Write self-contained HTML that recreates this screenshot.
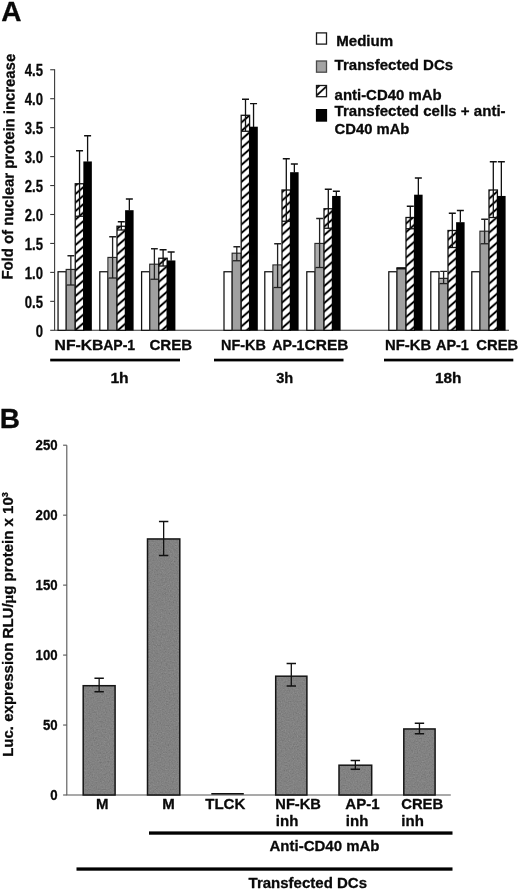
<!DOCTYPE html>
<html><head><meta charset="utf-8"><title>Figure</title><style>html,body{margin:0;padding:0;background:#fff;}svg{display:block;will-change:transform;opacity:0.999;}text{font-family:"Liberation Sans",sans-serif;font-weight:bold;fill:#0a0a0a;stroke:#0a0a0a;stroke-width:0.3px;stroke-linejoin:round;}</style>
</head><body>
<svg width="520" height="891" viewBox="0 0 520 891">
<defs>
<pattern id="hatch0" patternUnits="userSpaceOnUse" width="20" height="8.5" patternTransform="translate(75.25 330.2) skewY(-41)"><rect width="20" height="8.5" fill="#fff"/><rect width="20" height="1.3" fill="#000"/><rect y="7.2" width="20" height="1.3" fill="#000"/></pattern>
<pattern id="hatch1" patternUnits="userSpaceOnUse" width="20" height="8.5" patternTransform="translate(117.00 322.5) skewY(-41)"><rect width="20" height="8.5" fill="#fff"/><rect width="20" height="1.3" fill="#000"/><rect y="7.2" width="20" height="1.3" fill="#000"/></pattern>
<pattern id="hatch2" patternUnits="userSpaceOnUse" width="20" height="8.5" patternTransform="translate(158.80 324.4) skewY(-41)"><rect width="20" height="8.5" fill="#fff"/><rect width="20" height="1.3" fill="#000"/><rect y="7.2" width="20" height="1.3" fill="#000"/></pattern>
<pattern id="hatch3" patternUnits="userSpaceOnUse" width="20" height="8.5" patternTransform="translate(241.20 326.6) skewY(-41)"><rect width="20" height="8.5" fill="#fff"/><rect width="20" height="1.3" fill="#000"/><rect y="7.2" width="20" height="1.3" fill="#000"/></pattern>
<pattern id="hatch4" patternUnits="userSpaceOnUse" width="20" height="8.5" patternTransform="translate(282.00 328.1) skewY(-41)"><rect width="20" height="8.5" fill="#fff"/><rect width="20" height="1.3" fill="#000"/><rect y="7.2" width="20" height="1.3" fill="#000"/></pattern>
<pattern id="hatch5" patternUnits="userSpaceOnUse" width="20" height="8.5" patternTransform="translate(324.00 328.75) skewY(-41)"><rect width="20" height="8.5" fill="#fff"/><rect width="20" height="1.3" fill="#000"/><rect y="7.2" width="20" height="1.3" fill="#000"/></pattern>
<pattern id="hatch6" patternUnits="userSpaceOnUse" width="20" height="8.5" patternTransform="translate(406.00 325.6) skewY(-41)"><rect width="20" height="8.5" fill="#fff"/><rect width="20" height="1.3" fill="#000"/><rect y="7.2" width="20" height="1.3" fill="#000"/></pattern>
<pattern id="hatch7" patternUnits="userSpaceOnUse" width="20" height="8.5" patternTransform="translate(448.00 324.75) skewY(-41)"><rect width="20" height="8.5" fill="#fff"/><rect width="20" height="1.3" fill="#000"/><rect y="7.2" width="20" height="1.3" fill="#000"/></pattern>
<pattern id="hatch8" patternUnits="userSpaceOnUse" width="20" height="8.5" patternTransform="translate(489.00 326.25) skewY(-41)"><rect width="20" height="8.5" fill="#fff"/><rect width="20" height="1.3" fill="#000"/><rect y="7.2" width="20" height="1.3" fill="#000"/></pattern>
<filter id="nz" x="0" y="0" width="100%" height="100%"><feTurbulence type="fractalNoise" baseFrequency="0.75" numOctaves="2" seed="4" result="t"/><feColorMatrix in="t" type="matrix" values="0.33 0.33 0.33 0 0 0.33 0.33 0.33 0 0 0.33 0.33 0.33 0 0 0 0 0 0 1" result="g"/><feComposite in="SourceGraphic" in2="g" operator="arithmetic" k1="0" k2="1" k3="0.22" k4="-0.11" result="c"/><feComposite in="c" in2="SourceGraphic" operator="in"/></filter>
</defs>
<rect width="520" height="891" fill="#fff"/>
<path d="M54.6 69.3V330.3H509" stroke="#3a3a3a" stroke-width="1.1" fill="none"/>
<path d="M50.2 330.30H54.6" stroke="#3a3a3a" stroke-width="1.1"/>
<text transform="translate(43.0 336.60) scale(0.77 1)" font-size="17" text-anchor="end">0</text>
<path d="M50.2 301.35H54.6" stroke="#3a3a3a" stroke-width="1.1"/>
<text transform="translate(43.0 307.65) scale(0.77 1)" font-size="17" text-anchor="end">0.5</text>
<path d="M50.2 272.40H54.6" stroke="#3a3a3a" stroke-width="1.1"/>
<text transform="translate(43.0 278.70) scale(0.77 1)" font-size="17" text-anchor="end">1.0</text>
<path d="M50.2 243.45H54.6" stroke="#3a3a3a" stroke-width="1.1"/>
<text transform="translate(43.0 249.75) scale(0.77 1)" font-size="17" text-anchor="end">1.5</text>
<path d="M50.2 214.50H54.6" stroke="#3a3a3a" stroke-width="1.1"/>
<text transform="translate(43.0 220.80) scale(0.77 1)" font-size="17" text-anchor="end">2.0</text>
<path d="M50.2 185.55H54.6" stroke="#3a3a3a" stroke-width="1.1"/>
<text transform="translate(43.0 191.85) scale(0.77 1)" font-size="17" text-anchor="end">2.5</text>
<path d="M50.2 156.60H54.6" stroke="#3a3a3a" stroke-width="1.1"/>
<text transform="translate(43.0 162.90) scale(0.77 1)" font-size="17" text-anchor="end">3.0</text>
<path d="M50.2 127.65H54.6" stroke="#3a3a3a" stroke-width="1.1"/>
<text transform="translate(43.0 133.95) scale(0.77 1)" font-size="17" text-anchor="end">3.5</text>
<path d="M50.2 98.70H54.6" stroke="#3a3a3a" stroke-width="1.1"/>
<text transform="translate(43.0 105.00) scale(0.77 1)" font-size="17" text-anchor="end">4.0</text>
<path d="M50.2 69.75H54.6" stroke="#3a3a3a" stroke-width="1.1"/>
<text transform="translate(43.0 76.05) scale(0.77 1)" font-size="17" text-anchor="end">4.5</text>
<rect x="58.05" y="271.75" width="8.20" height="58.55" fill="#fff" stroke="#111" stroke-width="1.25"/>
<rect x="66.25" y="269.5" width="9.00" height="60.80" fill="#a0a0a0" stroke="#2a2a2a" stroke-width="1.3"/>
<rect x="66.85" y="270.1" width="7.80" height="14.90" fill="#adadad"/>
<path d="M70.85 255.75V285M67.44999999999999 255.75H74.25" stroke="#222" stroke-width="1.3" fill="none"/>
<path d="M66.85 285H74.65" stroke="#222" stroke-width="1.3" fill="none"/>
<rect x="75.25" y="183.75" width="8.40" height="146.55" fill="url(#hatch0)" stroke="#111" stroke-width="1.3"/>
<path d="M79.55 150.75V216.25M76.05 150.75H83.05" stroke="#111" stroke-width="1.3" fill="none"/>
<path d="M75.25 216.25H83.65" stroke="#111" stroke-width="1.3" fill="none"/>
<rect x="83.35" y="161.45" width="8.50" height="169.15" fill="#000"/>
<path d="M87.6 135.75V161.75M84.1 135.75H91.1" stroke="#111" stroke-width="1.3" fill="none"/>
<rect x="99.80" y="271.75" width="8.20" height="58.55" fill="#fff" stroke="#111" stroke-width="1.25"/>
<rect x="108.00" y="257.5" width="9.00" height="72.80" fill="#a0a0a0" stroke="#2a2a2a" stroke-width="1.3"/>
<rect x="108.60" y="258.1" width="7.80" height="19.90" fill="#adadad"/>
<path d="M112.6 236.75V278M109.19999999999999 236.75H116.0" stroke="#222" stroke-width="1.3" fill="none"/>
<path d="M108.6 278H116.4" stroke="#222" stroke-width="1.3" fill="none"/>
<rect x="117.00" y="226.25" width="8.40" height="104.05" fill="url(#hatch1)" stroke="#111" stroke-width="1.3"/>
<path d="M121.3 221.75V230M117.8 221.75H124.8" stroke="#111" stroke-width="1.3" fill="none"/>
<path d="M117.0 230H125.4" stroke="#111" stroke-width="1.3" fill="none"/>
<rect x="125.10" y="210.2" width="8.50" height="120.40" fill="#000"/>
<path d="M129.35000000000002 199V210.5M125.85000000000002 199H132.85000000000002" stroke="#111" stroke-width="1.3" fill="none"/>
<rect x="141.60" y="271.75" width="8.20" height="58.55" fill="#fff" stroke="#111" stroke-width="1.25"/>
<rect x="149.80" y="264.25" width="9.00" height="66.05" fill="#a0a0a0" stroke="#2a2a2a" stroke-width="1.3"/>
<rect x="150.40" y="264.85" width="7.80" height="14.40" fill="#adadad"/>
<path d="M154.4 248.75V279.25M151.0 248.75H157.8" stroke="#222" stroke-width="1.3" fill="none"/>
<path d="M150.4 279.25H158.20000000000002" stroke="#222" stroke-width="1.3" fill="none"/>
<rect x="158.80" y="258.25" width="8.40" height="72.05" fill="url(#hatch2)" stroke="#111" stroke-width="1.3"/>
<path d="M163.1 249.75V266M159.6 249.75H166.6" stroke="#111" stroke-width="1.3" fill="none"/>
<path d="M158.8 266H167.20000000000002" stroke="#111" stroke-width="1.3" fill="none"/>
<rect x="166.90" y="260.45" width="8.50" height="70.15" fill="#000"/>
<path d="M171.15000000000003 252V260.75M167.65000000000003 252H174.65000000000003" stroke="#111" stroke-width="1.3" fill="none"/>
<rect x="224.00" y="271.75" width="8.20" height="58.55" fill="#fff" stroke="#111" stroke-width="1.25"/>
<rect x="232.20" y="253.25" width="9.00" height="77.05" fill="#a0a0a0" stroke="#2a2a2a" stroke-width="1.3"/>
<rect x="232.80" y="253.85" width="7.80" height="6.90" fill="#adadad"/>
<path d="M236.79999999999998 246.75V260.75M233.39999999999998 246.75H240.2" stroke="#222" stroke-width="1.3" fill="none"/>
<path d="M232.79999999999998 260.75H240.6" stroke="#222" stroke-width="1.3" fill="none"/>
<rect x="241.20" y="115.3" width="8.40" height="215.00" fill="url(#hatch3)" stroke="#111" stroke-width="1.3"/>
<path d="M245.49999999999997 99.25V131.25M241.99999999999997 99.25H248.99999999999997" stroke="#111" stroke-width="1.3" fill="none"/>
<path d="M241.2 131.25H249.6" stroke="#111" stroke-width="1.3" fill="none"/>
<rect x="249.30" y="126.7" width="8.50" height="203.90" fill="#000"/>
<path d="M253.55 103.7V127M250.05 103.7H257.05" stroke="#111" stroke-width="1.3" fill="none"/>
<rect x="264.80" y="271.75" width="8.20" height="58.55" fill="#fff" stroke="#111" stroke-width="1.25"/>
<rect x="273.00" y="265" width="9.00" height="65.30" fill="#a0a0a0" stroke="#2a2a2a" stroke-width="1.3"/>
<rect x="273.60" y="265.6" width="7.80" height="21.90" fill="#adadad"/>
<path d="M277.6 243.75V287.5M274.20000000000005 243.75H281.0" stroke="#222" stroke-width="1.3" fill="none"/>
<path d="M273.6 287.5H281.4" stroke="#222" stroke-width="1.3" fill="none"/>
<rect x="282.00" y="190" width="8.40" height="140.30" fill="url(#hatch4)" stroke="#111" stroke-width="1.3"/>
<path d="M286.3 158.75V221.25M282.8 158.75H289.8" stroke="#111" stroke-width="1.3" fill="none"/>
<path d="M282.0 221.25H290.4" stroke="#111" stroke-width="1.3" fill="none"/>
<rect x="290.10" y="172.2" width="8.50" height="158.40" fill="#000"/>
<path d="M294.35 164V172.5M290.85 164H297.85" stroke="#111" stroke-width="1.3" fill="none"/>
<rect x="306.80" y="271.75" width="8.20" height="58.55" fill="#fff" stroke="#111" stroke-width="1.25"/>
<rect x="315.00" y="243.5" width="9.00" height="86.80" fill="#a0a0a0" stroke="#2a2a2a" stroke-width="1.3"/>
<rect x="315.60" y="244.1" width="7.80" height="23.40" fill="#adadad"/>
<path d="M319.6 218.5V267.5M316.20000000000005 218.5H323.0" stroke="#222" stroke-width="1.3" fill="none"/>
<path d="M315.6 267.5H323.4" stroke="#222" stroke-width="1.3" fill="none"/>
<rect x="324.00" y="208.75" width="8.40" height="121.55" fill="url(#hatch5)" stroke="#111" stroke-width="1.3"/>
<path d="M328.3 189.25V228.25M324.8 189.25H331.8" stroke="#111" stroke-width="1.3" fill="none"/>
<path d="M324.0 228.25H332.4" stroke="#111" stroke-width="1.3" fill="none"/>
<rect x="332.10" y="195.95" width="8.50" height="134.65" fill="#000"/>
<path d="M336.35 191.25V196.25M332.85 191.25H339.85" stroke="#111" stroke-width="1.3" fill="none"/>
<rect x="388.80" y="271.75" width="8.20" height="58.55" fill="#fff" stroke="#111" stroke-width="1.25"/>
<rect x="397.00" y="268.25" width="9.00" height="62.05" fill="#a0a0a0" stroke="#2a2a2a" stroke-width="1.3"/>
<rect x="396.50" y="267.25" width="10.00" height="2.2" fill="#111"/>
<rect x="406.00" y="217.5" width="8.40" height="112.80" fill="url(#hatch6)" stroke="#111" stroke-width="1.3"/>
<path d="M410.3 206.25V228.75M406.8 206.25H413.8" stroke="#111" stroke-width="1.3" fill="none"/>
<path d="M406.0 228.75H414.4" stroke="#111" stroke-width="1.3" fill="none"/>
<rect x="414.10" y="194.7" width="8.50" height="135.90" fill="#000"/>
<path d="M418.35 178V195M414.85 178H421.85" stroke="#111" stroke-width="1.3" fill="none"/>
<rect x="430.80" y="271.75" width="8.20" height="58.55" fill="#fff" stroke="#111" stroke-width="1.25"/>
<rect x="439.00" y="278.4" width="9.00" height="51.90" fill="#a0a0a0" stroke="#2a2a2a" stroke-width="1.3"/>
<rect x="439.60" y="279.0" width="7.80" height="4.60" fill="#adadad"/>
<path d="M443.6 271.4V283.6M440.20000000000005 271.4H447.0" stroke="#222" stroke-width="1.3" fill="none"/>
<path d="M439.6 283.6H447.4" stroke="#222" stroke-width="1.3" fill="none"/>
<rect x="448.00" y="230.5" width="8.40" height="99.80" fill="url(#hatch7)" stroke="#111" stroke-width="1.3"/>
<path d="M452.3 213.25V247.5M448.8 213.25H455.8" stroke="#111" stroke-width="1.3" fill="none"/>
<path d="M448.0 247.5H456.4" stroke="#111" stroke-width="1.3" fill="none"/>
<rect x="456.10" y="222.2" width="8.50" height="108.40" fill="#000"/>
<path d="M460.35 210.5V222.5M456.85 210.5H463.85" stroke="#111" stroke-width="1.3" fill="none"/>
<rect x="471.80" y="271.75" width="8.20" height="58.55" fill="#fff" stroke="#111" stroke-width="1.25"/>
<rect x="480.00" y="231.25" width="9.00" height="99.05" fill="#a0a0a0" stroke="#2a2a2a" stroke-width="1.3"/>
<rect x="480.60" y="231.85" width="7.80" height="11.90" fill="#adadad"/>
<path d="M484.6 219.25V243.75M481.20000000000005 219.25H488.0" stroke="#222" stroke-width="1.3" fill="none"/>
<path d="M480.6 243.75H488.4" stroke="#222" stroke-width="1.3" fill="none"/>
<rect x="489.00" y="190" width="8.40" height="140.30" fill="url(#hatch8)" stroke="#111" stroke-width="1.3"/>
<path d="M493.3 161.75V217.5M489.8 161.75H496.8" stroke="#111" stroke-width="1.3" fill="none"/>
<path d="M489.0 217.5H497.4" stroke="#111" stroke-width="1.3" fill="none"/>
<rect x="497.10" y="195.95" width="8.50" height="134.65" fill="#000"/>
<path d="M501.35 161.75V196.25M497.85 161.75H504.85" stroke="#111" stroke-width="1.3" fill="none"/>
<text x="54.5" y="350.2" font-size="14" text-anchor="start" textLength="49" lengthAdjust="spacingAndGlyphs" >NF-KB</text>
<text x="103.2" y="350.2" font-size="14" text-anchor="start" textLength="32" lengthAdjust="spacingAndGlyphs" >AP-1</text>
<text x="149.4" y="350.2" font-size="14" text-anchor="start" textLength="42.8" lengthAdjust="spacingAndGlyphs" >CREB</text>
<text x="221" y="350.2" font-size="14" text-anchor="start" textLength="44.8" lengthAdjust="spacingAndGlyphs" >NF-KB</text>
<text x="272.2" y="350.2" font-size="14" text-anchor="start" textLength="32.3" lengthAdjust="spacingAndGlyphs" >AP-1</text>
<text x="304.6" y="350.2" font-size="14" text-anchor="start" textLength="43.8" lengthAdjust="spacingAndGlyphs" >CREB</text>
<text x="385" y="350.2" font-size="14" text-anchor="start" textLength="46.2" lengthAdjust="spacingAndGlyphs" >NF-KB</text>
<text x="436" y="350.2" font-size="14" text-anchor="start" textLength="32.9" lengthAdjust="spacingAndGlyphs" >AP-1</text>
<text x="476.3" y="350.2" font-size="14" text-anchor="start" textLength="42" lengthAdjust="spacingAndGlyphs" >CREB</text>
<rect x="50.2" y="358.7" width="129.8" height="2.7" fill="#000"/>
<rect x="214" y="358.7" width="129.5" height="2.7" fill="#000"/>
<rect x="384" y="358.7" width="129.29999999999995" height="2.7" fill="#000"/>
<text x="110.4" y="382.8" font-size="15" text-anchor="start" textLength="18.3" lengthAdjust="spacingAndGlyphs" >1h</text>
<text x="276.2" y="382.8" font-size="14.6" text-anchor="start" >3h</text>
<text x="435" y="382.8" font-size="15" text-anchor="start" textLength="26.5" lengthAdjust="spacingAndGlyphs" >18h</text>
<text transform="translate(12.5 279.6) rotate(-89.35)" font-size="15.3" textLength="225.8" lengthAdjust="spacingAndGlyphs">Fold of nuclear protein increase</text>
<text x="1.2" y="21.2" font-size="28" text-anchor="start" >A</text>
<rect x="316.5" y="32.9" width="10" height="11.2" fill="#fff" stroke="#1a1a1a" stroke-width="1.3"/>
<rect x="316.5" y="61" width="10" height="11.2" fill="#a4a4a4" stroke="#4a4a4a" stroke-width="1.3"/>
<rect x="316.5" y="85.5" width="10" height="11.2" fill="#fff" stroke="#1a1a1a" stroke-width="1.3"/>
<path d="M316.9 95.3L326.2 86.6M316.6 88.2L319.6 85.4" stroke="#111" stroke-width="1.9" fill="none"/>
<rect x="315.9" y="109" width="11.2" height="12.7" fill="#000"/>
<text x="336.2" y="45.7" font-size="14.8" text-anchor="start" textLength="57" lengthAdjust="spacingAndGlyphs" >Medium</text>
<text x="334.6" y="70.4" font-size="14.8" text-anchor="start" textLength="118.6" lengthAdjust="spacingAndGlyphs" >Transfected DCs</text>
<text x="334.6" y="99.5" font-size="14.8" text-anchor="start" textLength="107" lengthAdjust="spacingAndGlyphs" >anti-CD40 mAb</text>
<text x="334.6" y="116.1" font-size="14.8" text-anchor="start" textLength="171" lengthAdjust="spacingAndGlyphs" >Transfected cells + anti-</text>
<text x="334.6" y="133.6" font-size="14.8" text-anchor="start" textLength="74.8" lengthAdjust="spacingAndGlyphs" >CD40 mAb</text>
<path d="M66.8 445.2V795.0H450.8" stroke="#555" stroke-width="1.1" fill="none"/>
<path d="M63.1 795.00H66.8" stroke="#555" stroke-width="1.1"/>
<text transform="translate(57.6 799.90) scale(0.93 1)" font-size="14.2" text-anchor="end">0</text>
<path d="M63.1 725.04H66.8" stroke="#555" stroke-width="1.1"/>
<text transform="translate(57.6 729.94) scale(0.93 1)" font-size="14.2" text-anchor="end">50</text>
<path d="M63.1 655.08H66.8" stroke="#555" stroke-width="1.1"/>
<text transform="translate(57.6 659.98) scale(0.93 1)" font-size="14.2" text-anchor="end">100</text>
<path d="M63.1 585.12H66.8" stroke="#555" stroke-width="1.1"/>
<text transform="translate(57.6 590.02) scale(0.93 1)" font-size="14.2" text-anchor="end">150</text>
<path d="M63.1 515.16H66.8" stroke="#555" stroke-width="1.1"/>
<text transform="translate(57.6 520.06) scale(0.93 1)" font-size="14.2" text-anchor="end">200</text>
<path d="M63.1 445.20H66.8" stroke="#555" stroke-width="1.1"/>
<text transform="translate(57.6 450.10) scale(0.93 1)" font-size="14.2" text-anchor="end">250</text>
<rect x="83.20" y="685.70" width="31.90" height="109.30" fill="#828282" filter="url(#nz)"/>
<rect x="83.20" y="685.70" width="31.90" height="109.30" fill="none" stroke="#151515" stroke-width="1.5"/>
<path d="M99.15 678.25V691.75M94.45 678.25H103.85M94.45 691.75H103.85" stroke="#111" stroke-width="1.3" fill="none"/>
<rect x="147.50" y="538.95" width="32.30" height="256.05" fill="#828282" filter="url(#nz)"/>
<rect x="147.50" y="538.95" width="32.30" height="256.05" fill="none" stroke="#151515" stroke-width="1.5"/>
<path d="M163.65 521.5V555.5M158.95 521.5H168.35M158.95 555.5H168.35" stroke="#111" stroke-width="1.3" fill="none"/>
<rect x="211.3" y="793.0" width="32.5" height="1.6" fill="#111"/>
<rect x="275.70" y="676.20" width="31.20" height="118.80" fill="#828282" filter="url(#nz)"/>
<rect x="275.70" y="676.20" width="31.20" height="118.80" fill="none" stroke="#151515" stroke-width="1.5"/>
<path d="M291.30 663.5V686M286.60 663.5H296.00M286.60 686H296.00" stroke="#111" stroke-width="1.3" fill="none"/>
<rect x="339.00" y="765.20" width="32.70" height="29.80" fill="#828282" filter="url(#nz)"/>
<rect x="339.00" y="765.20" width="32.70" height="29.80" fill="none" stroke="#151515" stroke-width="1.5"/>
<path d="M355.35 760.5V769.25M350.65 760.5H360.05M350.65 769.25H360.05" stroke="#111" stroke-width="1.3" fill="none"/>
<rect x="403.80" y="728.95" width="31.30" height="66.05" fill="#828282" filter="url(#nz)"/>
<rect x="403.80" y="728.95" width="31.30" height="66.05" fill="none" stroke="#151515" stroke-width="1.5"/>
<path d="M419.45 723.25V733.75M414.75 723.25H424.15M414.75 733.75H424.15" stroke="#111" stroke-width="1.3" fill="none"/>
<text x="96.1" y="808.6" font-size="15" text-anchor="start" >M</text>
<text x="162.3" y="808.6" font-size="15" text-anchor="start" >M</text>
<text x="205.2" y="808.6" font-size="15" text-anchor="start" textLength="40.2" lengthAdjust="spacingAndGlyphs" >TLCK</text>
<text x="275.3" y="808.6" font-size="15" text-anchor="start" textLength="45.6" lengthAdjust="spacingAndGlyphs" >NF-KB</text>
<text x="275.8" y="826.2" font-size="15" text-anchor="start" >inh</text>
<text x="345.3" y="808.6" font-size="15" text-anchor="start" textLength="34.3" lengthAdjust="spacingAndGlyphs" >AP-1</text>
<text x="345.8" y="826.2" font-size="15" text-anchor="start" >inh</text>
<text x="401.2" y="808.6" font-size="15" text-anchor="start" textLength="42" lengthAdjust="spacingAndGlyphs" >CREB</text>
<text x="401.3" y="826.2" font-size="15" text-anchor="start" >inh</text>
<rect x="149" y="831.4" width="303.5" height="3.3" fill="#000"/>
<rect x="76.5" y="867.4" width="376" height="3.3" fill="#000"/>
<text x="269.5" y="851.4" font-size="15" text-anchor="start" textLength="110" lengthAdjust="spacingAndGlyphs" >Anti-CD40 mAb</text>
<text x="248.6" y="887.7" font-size="15" text-anchor="start" >Transfected DCs</text>
<text x="-0.3" y="427.5" font-size="28" text-anchor="start" >B</text>
<text transform="translate(13.2 756.8) rotate(-90)" font-size="15">Luc. expression RLU/<tspan font-family="Liberation Serif, serif" font-weight="bold">µ</tspan>g protein x 10<tspan font-size="9" dy="-5">3</tspan></text>
</svg></body></html>
